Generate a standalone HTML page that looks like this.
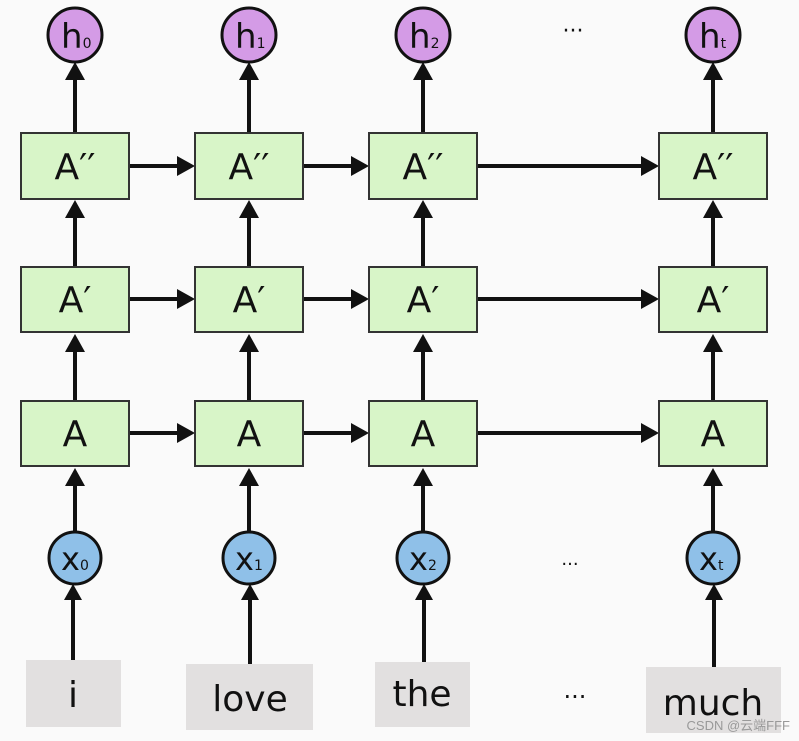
<!DOCTYPE html>
<html><head><style>body{margin:0;background:#fafafa}svg{display:block}</style></head><body>
<svg width="799" height="741" xmlns="http://www.w3.org/2000/svg" font-family="'DejaVu Sans','Liberation Sans',sans-serif">
<defs><marker id="a" markerWidth="10" markerHeight="10" refX="9" refY="5" orient="auto" markerUnits="userSpaceOnUse"><path d="M0,0 L0,0"/></marker></defs>
<rect width="799" height="741" fill="#fafafa"/>
<g id="cols">
</g>
<script></script>
<g stroke="#111" stroke-width="4" fill="none">
<!-- verticals -->
<path d="M75 133V70 M249 133V70 M423 133V70 M713 133V70"/>
<path d="M75 267V210 M249 267V210 M423 267V210 M713 267V210"/>
<path d="M75 401V344 M249 401V344 M423 401V344 M713 401V344"/>
<path d="M75 532V478 M249 532V478 M423 532V478 M713 532V478"/>
<path d="M73 660V596 M250 664V596 M424 662V596 M714 667V596"/>
<!-- horizontals -->
<path d="M129 166H180 M303 166H354 M477 166H644"/>
<path d="M129 299H180 M303 299H354 M477 299H644"/>
<path d="M129 433H180 M303 433H354 M477 433H644"/>
</g>
<g fill="#111">
<path d="M65 80L75 62L85 80Z M239 80L249 62L259 80Z M413 80L423 62L433 80Z M703 80L713 62L723 80Z"/>
<path d="M65 218L75 200L85 218Z M239 218L249 200L259 218Z M413 218L423 200L433 218Z M703 218L713 200L723 218Z"/>
<path d="M65 352L75 334L85 352Z M239 352L249 334L259 352Z M413 352L423 334L433 352Z M703 352L713 334L723 352Z"/>
<path d="M65 486L75 468L85 486Z M239 486L249 468L259 486Z M413 486L423 468L433 486Z M703 486L713 468L723 486Z"/>
<path d="M64 600L73 584L82 600Z M241 600L250 584L259 600Z M415 600L424 584L433 600Z M705 600L714 584L723 600Z"/>
<path d="M177 156L195 166L177 176Z M351 156L369 166L351 176Z M641 156L659 166L641 176Z"/>
<path d="M177 289L195 299L177 309Z M351 289L369 299L351 309Z M641 289L659 299L641 309Z"/>
<path d="M177 423L195 433L177 443Z M351 423L369 433L351 443Z M641 423L659 433L641 443Z"/>
</g>
<g fill="#d8f5c8" stroke="#333" stroke-width="2">
<rect x="21" y="133" width="108" height="66"/><rect x="195" y="133" width="108" height="66"/><rect x="369" y="133" width="108" height="66"/><rect x="659" y="133" width="108" height="66"/>
<rect x="21" y="267" width="108" height="65"/><rect x="195" y="267" width="108" height="65"/><rect x="369" y="267" width="108" height="65"/><rect x="659" y="267" width="108" height="65"/>
<rect x="21" y="401" width="108" height="65"/><rect x="195" y="401" width="108" height="65"/><rect x="369" y="401" width="108" height="65"/><rect x="659" y="401" width="108" height="65"/>
</g>
<g font-size="36" text-anchor="middle" fill="#111">
<text x="75" y="179">A′′</text><text x="249" y="179">A′′</text><text x="423" y="179">A′′</text><text x="713" y="179">A′′</text>
<text x="75" y="312">A′</text><text x="249" y="312">A′</text><text x="423" y="312">A′</text><text x="713" y="312">A′</text>
<text x="75" y="446">A</text><text x="249" y="446">A</text><text x="423" y="446">A</text><text x="713" y="446">A</text>
</g>
<g fill="#d49be6" stroke="#111" stroke-width="3">
<circle cx="75" cy="35" r="27"/><circle cx="249" cy="35" r="27"/><circle cx="423" cy="35" r="27"/><circle cx="713" cy="35" r="27"/>
</g>
<g fill="#8fc0e8" stroke="#111" stroke-width="3">
<circle cx="75" cy="558" r="26"/><circle cx="249" cy="558" r="26"/><circle cx="423" cy="558" r="26"/><circle cx="713" cy="558" r="26"/>
</g>
<g fill="#111">
<text x="61" y="48" font-size="34">h<tspan font-size="14">0</tspan></text>
<text x="235" y="48" font-size="34">h<tspan font-size="14">1</tspan></text>
<text x="409" y="48" font-size="34">h<tspan font-size="14">2</tspan></text>
<text x="699" y="48" font-size="34">h<tspan font-size="14">t</tspan></text>
<text x="61" y="570" font-size="32">x<tspan font-size="14">0</tspan></text>
<text x="235" y="570" font-size="32">x<tspan font-size="14">1</tspan></text>
<text x="409" y="570" font-size="32">x<tspan font-size="14">2</tspan></text>
<text x="699" y="570" font-size="32">x<tspan font-size="14">t</tspan></text>
<text x="573" y="38" font-size="22" text-anchor="middle">···</text>
<text x="570" y="570" font-size="18" text-anchor="middle">···</text>
<text x="575" y="705" font-size="24" text-anchor="middle">···</text>
</g>
<g fill="#e2e0e0">
<rect x="26" y="660" width="95" height="67"/><rect x="186" y="664" width="127" height="66"/><rect x="375" y="662" width="95" height="65"/><rect x="646" y="667" width="135" height="66"/>
</g>
<g font-size="36" text-anchor="middle" fill="#111">
<text x="73" y="707">i</text><text x="250" y="711">love</text><text x="422" y="706">the</text><text x="713" y="715">much</text>
</g>
<text x="790" y="730" font-size="13" fill="#999" text-anchor="end" font-family="'Liberation Sans','Noto Sans CJK SC',sans-serif">CSDN @云端FFF</text>
</svg>
</body></html>
